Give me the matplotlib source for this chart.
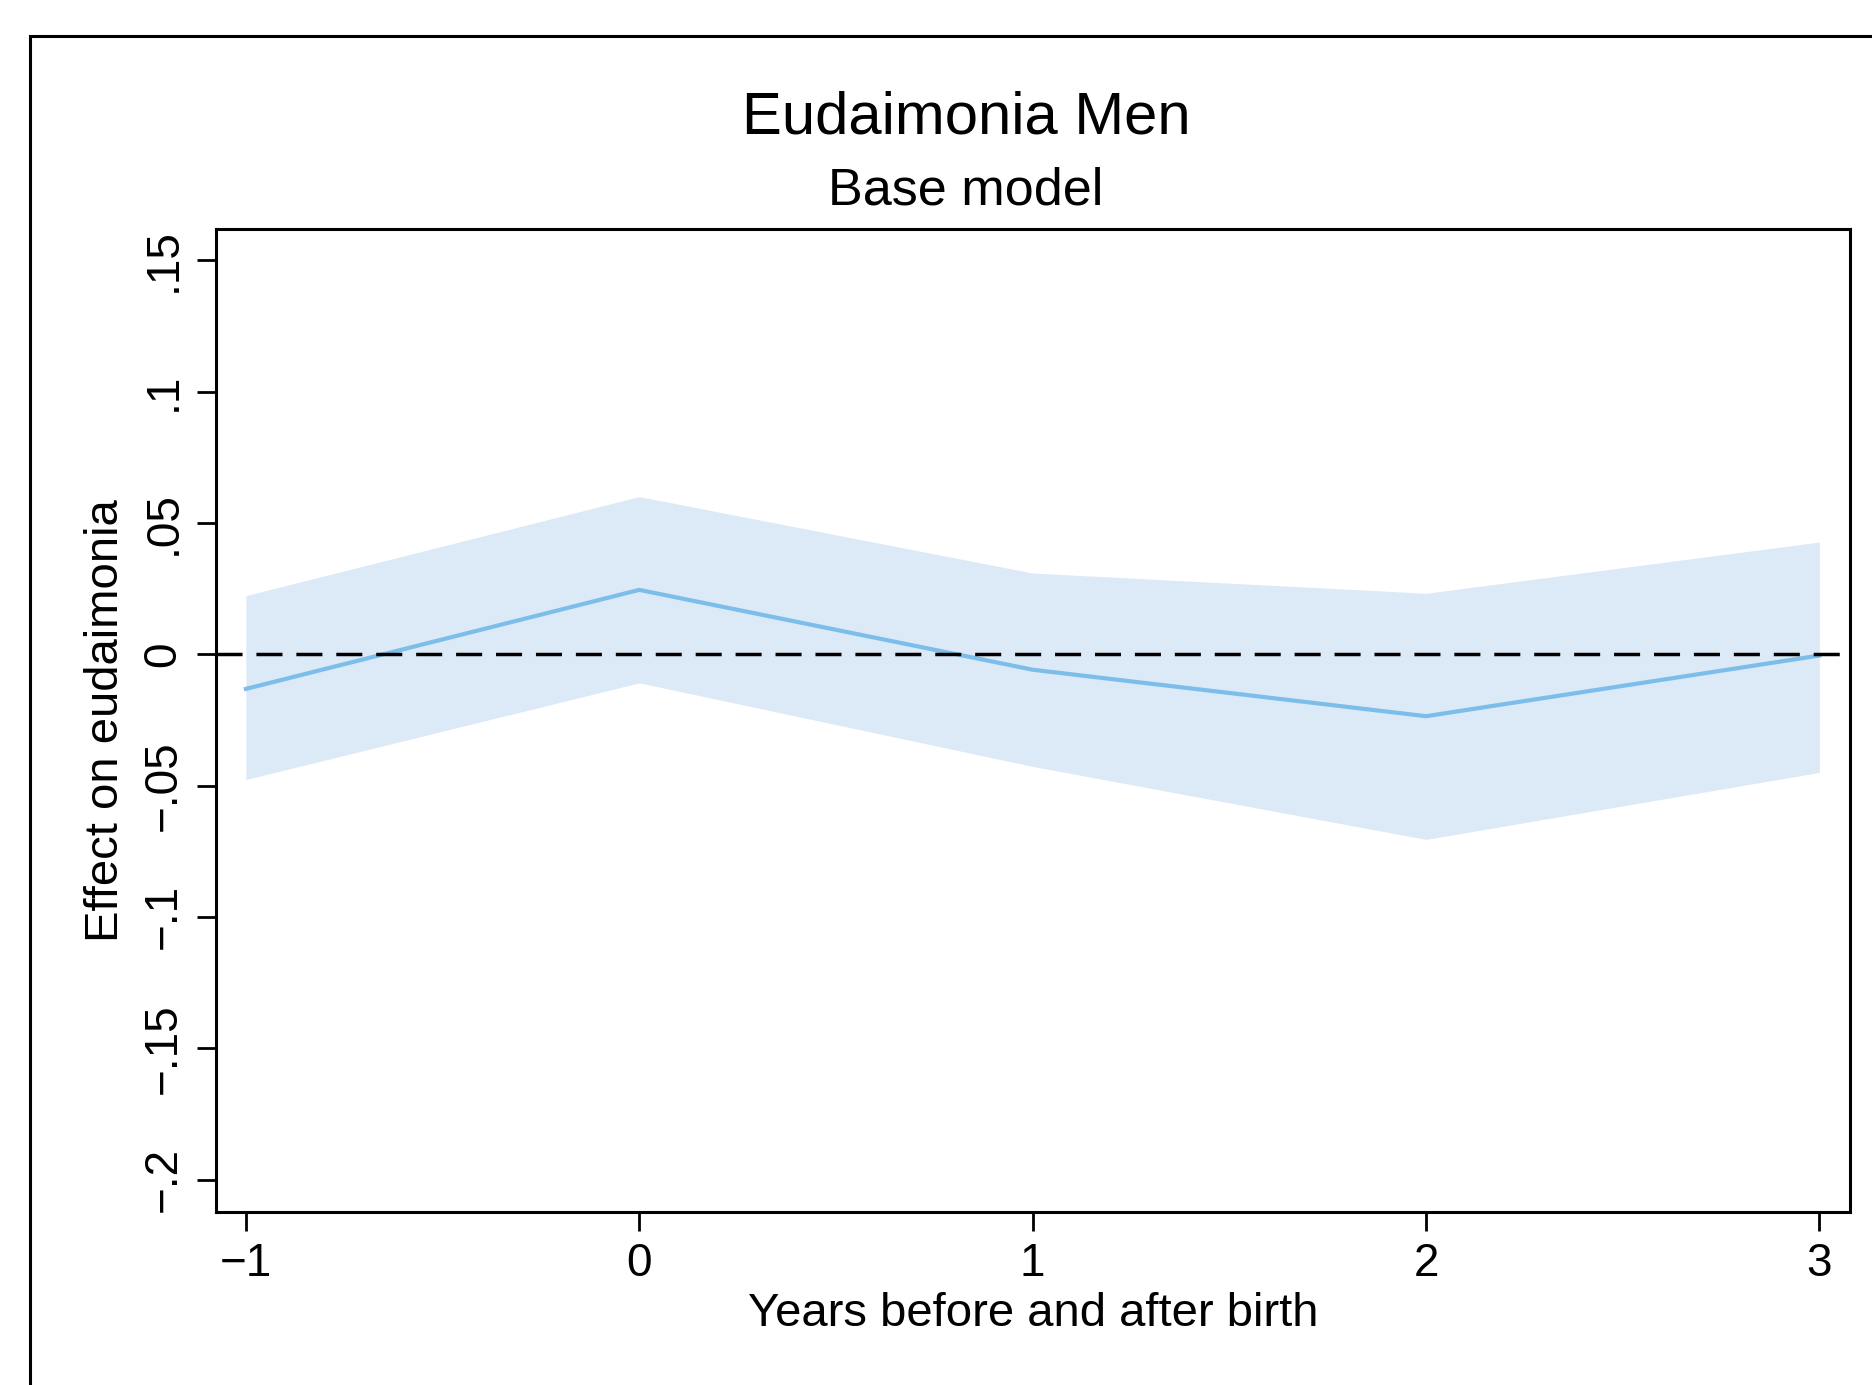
import matplotlib
matplotlib.use("Agg")
import matplotlib.pyplot as plt
from matplotlib.patches import Rectangle

plt.rcParams['font.family'] = ['Liberation Sans', 'DejaVu Sans']

# event time relative to birth
years = [-1, 0, 1, 2, 3]
effect = [-0.0132, 0.0245, -0.0059, -0.0236, -0.0005]
ci_upper = [0.0223, 0.0600, 0.0309, 0.0232, 0.0427]
ci_lower = [-0.0477, -0.0109, -0.0427, -0.0705, -0.0450]

y_ticks = [-0.2, -0.15, -0.1, -0.05, 0, 0.05, 0.1, 0.15]
y_labels = ["\u2212.2", "\u2212.15", "\u2212.1", "\u2212.05", "0", ".05", ".1", ".15"]
x_ticks = [-1, 0, 1, 2, 3]
x_labels = ["\u22121", "0", "1", "2", "3"]

fig = plt.figure(figsize=(18.72, 13.85), dpi=100)
ax = fig.add_axes([0.1154, 0.125, 0.9885 - 0.1154, 0.8345 - 0.125])

# outer frame, cut off at right and bottom like the source
fig.patches.append(Rectangle((0.016, -0.2), 1.5, 0.974 + 0.2, transform=fig.transFigure,
                             fill=False, edgecolor='black', linewidth=2.2))

ax.fill_between(years, ci_lower, ci_upper, color='#dbeaf6', linewidth=0, zorder=1)
ax.plot(years, effect, color='#7dbde9', linewidth=3, zorder=2)
ax.axhline(0, color='black', linestyle=(0, (7.5, 4)), linewidth=2.5, zorder=3)

ax.set_xlim(-1.076, 3.079)
ax.set_ylim(-0.2123, 0.1618)

ax.set_xticks(x_ticks)
ax.set_xticklabels(x_labels, fontsize=33)
ax.set_yticks(y_ticks)
ax.set_yticklabels(y_labels, fontsize=33, rotation=90, va='center')
ax.tick_params(direction='out', length=14, width=2, pad=8)

for sp in ax.spines.values():
    sp.set_linewidth(2.2)

ax.set_xlabel("Years before and after birth", fontsize=34, labelpad=4)
ax.set_ylabel("Effect on eudaimonia", fontsize=34, labelpad=10)

fig.text(0.516, 0.915, "Eudaimonia Men", fontsize=43, ha='center', va='center')
fig.text(0.516, 0.862, "Base model", fontsize=37.5, ha='center', va='center')

fig.savefig("out.png", dpi=100)
